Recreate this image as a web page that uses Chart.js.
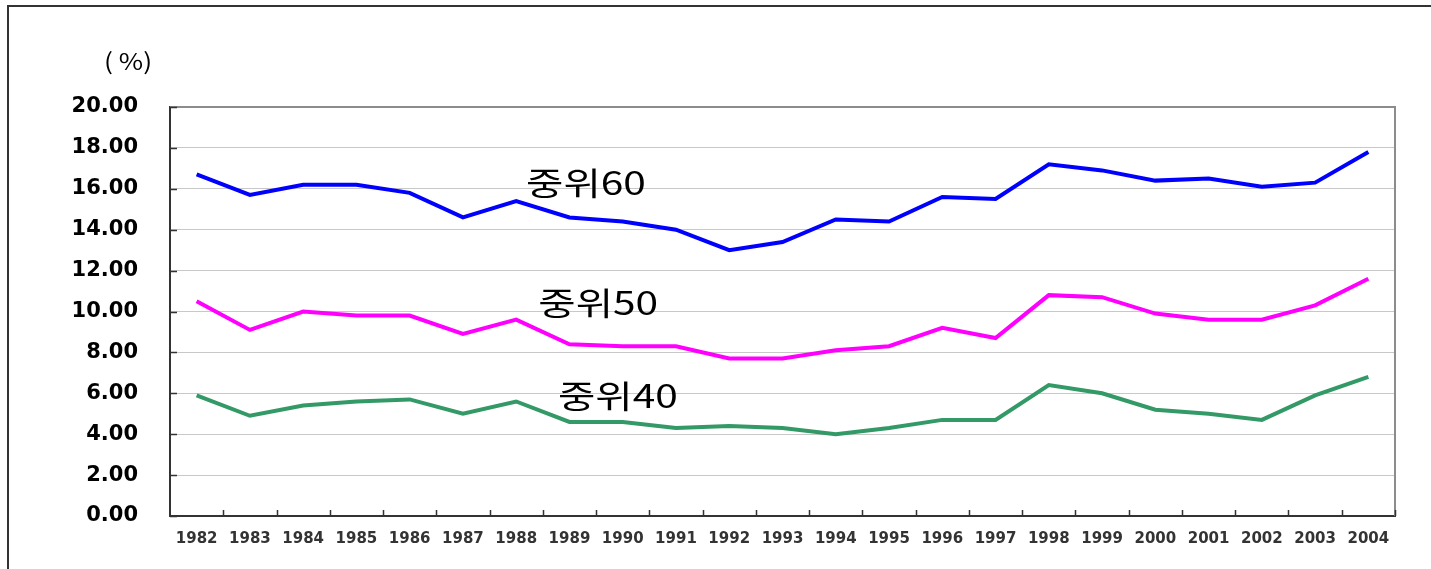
<!DOCTYPE html>
<html>
<head>
<meta charset="utf-8">
<script src="https://cdn.jsdelivr.net/npm/chart.js@4"></script>
<style>
  html, body { margin: 0; padding: 0; background: #fff; overflow: hidden; }
  #wrap { position: relative; width: 1431px; height: 569px; }
</style>
</head>
<body>
<div id="wrap"><canvas id="chart"></canvas></div>
<script>
const years = ['1982','1983','1984','1985','1986','1987','1988','1989','1990','1991','1992','1993',
  '1994','1995','1996','1997','1998','1999','2000','2001','2002','2003','2004'];
const median60 = [16.7, 15.7, 16.2, 16.2, 15.8, 14.6, 15.4, 14.6, 14.4, 14.0, 13.0, 13.4,
  14.5, 14.4, 15.6, 15.5, 17.2, 16.9, 16.4, 16.5, 16.1, 16.3, 17.8];
const median50 = [10.5, 9.1, 10.0, 9.8, 9.8, 8.9, 9.6, 8.4, 8.3, 8.3, 7.7, 7.7,
  8.1, 8.3, 9.2, 8.7, 10.8, 10.7, 9.9, 9.6, 9.6, 10.3, 11.6];
const median40 = [5.9, 4.9, 5.4, 5.6, 5.7, 5.0, 5.6, 4.6, 4.6, 4.3, 4.4, 4.3,
  4.0, 4.3, 4.7, 4.7, 6.4, 6.0, 5.2, 5.0, 4.7, 5.9, 6.8];
const seriesNames = ['중위60', '중위50', '중위40'];
const seriesColors = ['#0000ff', '#ff00ff', '#339966'];
// where each series name sits: [category position, value]
const nameSpots = [[7.31, 16.28], [7.54, 10.42], [7.91, 5.87]];
const unitLabel = '( %)';

const ctx = document.getElementById('chart');

const decor = {
  id: 'decor',
  beforeDraw(chart) {
    const c = chart.ctx;
    c.save();
    c.fillStyle = '#fff';
    c.fillRect(0, 0, chart.width, chart.height);
    // outer frame
    c.strokeStyle = '#333';
    c.lineWidth = 2;
    c.beginPath();
    c.moveTo(8, chart.height);
    c.lineTo(8, 6);
    c.lineTo(chart.width, 6);
    c.stroke();
    c.restore();
  },
  afterDraw(chart) {
    const c = chart.ctx;
    const a = chart.chartArea;
    const x = chart.scales.x, y = chart.scales.y;
    c.save();
    // top and right plot border
    c.strokeStyle = '#8c8c8c';
    c.lineWidth = 2;
    c.beginPath();
    c.moveTo(a.left, a.top);
    c.lineTo(a.right, a.top);
    c.lineTo(a.right, a.bottom);
    c.stroke();
    // inward tick marks
    c.strokeStyle = '#333';
    c.lineWidth = 1.5;
    c.beginPath();
    y.ticks.forEach(t => {
      const py = Math.round(y.getPixelForValue(t.value)) + 0.5;
      c.moveTo(a.left, py);
      c.lineTo(a.left + 7, py);
    });
    for (let i = 1; i <= years.length; i++) {
      const px = Math.round(x.getPixelForValue(i - 0.5)) + 0.5;
      c.moveTo(px, a.bottom);
      c.lineTo(px, a.bottom - 6);
    }
    c.stroke();
    // series names
    c.fillStyle = '#000';
    c.font = '32px "Noto Sans CJK KR"';
    c.textAlign = 'center';
    c.textBaseline = 'middle';
    seriesNames.forEach((n, i) => {
      const px = x.getPixelForValue(nameSpots[i][0]);
      const py = y.getPixelForValue(nameSpots[i][1]);
      c.save();
      c.translate(px, py);
      c.scale(1.27, 1);
      c.fillText(n, 0, 0);
      c.restore();
    });
    // unit
    c.save();
    c.font = '23px "Noto Sans CJK KR"';
    c.translate(a.left - 42, a.top - 46);
    c.scale(1.15, 1);
    c.fillText(unitLabel, 0, 0);
    c.restore();
    c.restore();
  }
};

new Chart(ctx, {
  type: 'line',
  data: {
    labels: years,
    datasets: [
      { label: seriesNames[0], data: median60, borderColor: seriesColors[0] },
      { label: seriesNames[1], data: median50, borderColor: seriesColors[1] },
      { label: seriesNames[2], data: median40, borderColor: seriesColors[2] }
    ]
  },
  options: {
    responsive: true,
    maintainAspectRatio: false,
    animation: false,
    layout: { padding: { left: 0, right: 36, top: 107, bottom: 0 } },
    elements: {
      line: { borderWidth: 4, tension: 0, fill: false },
      point: { radius: 0, hoverRadius: 0 }
    },
    plugins: { legend: { display: false }, tooltip: { enabled: false } },
    scales: {
      x: {
        offset: true,
        grid: { display: false, drawTicks: false },
        border: { display: true, color: '#333', width: 2 },
        ticks: {
          padding: 14,
          color: '#333',
          maxRotation: 0,
          autoSkip: false,
          font: { family: 'DejaVu Sans', weight: 'bold', size: 15 }
        },
        afterFit(s) { s.height = 53; }
      },
      y: {
        min: 0,
        max: 20,
        grid: { color: '#c8c8c8', lineWidth: 1, drawTicks: false },
        border: { display: true, color: '#333', width: 2 },
        ticks: {
          stepSize: 2,
          padding: 32,
          color: '#000',
          font: { family: 'DejaVu Sans', weight: 'bold', size: 21 },
          callback: v => v.toFixed(2)
        },
        afterFit(s) { s.width = 170; }
      }
    }
  },
  plugins: [decor]
});
</script>
</body>
</html>
